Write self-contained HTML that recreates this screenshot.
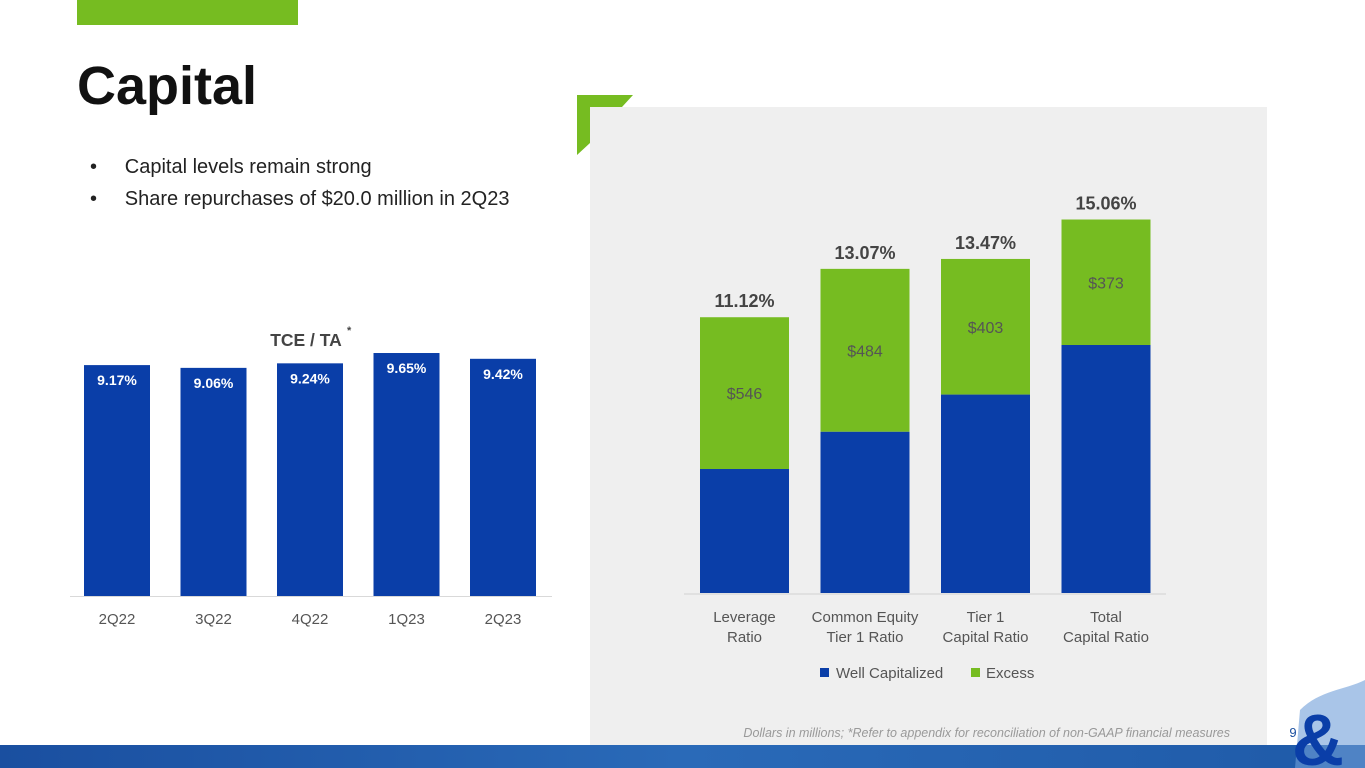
<!DOCTYPE html>
<html><head><meta charset="utf-8"><style>
body{margin:0;width:1365px;height:768px;position:relative;overflow:hidden;background:#fff;font-family:"Liberation Sans",sans-serif}
.abs{position:absolute}
</style></head><body>
<div class="abs" style="left:77px;top:0;width:221px;height:25px;background:#76bc21"></div>
<div class="abs" style="left:77px;top:55px;font-size:54px;font-weight:bold;color:#111">Capital</div>
<div class="abs" style="left:90px;top:151px;font-size:20px;color:#222;line-height:32px">
<div>•&nbsp;&nbsp;&nbsp;&nbsp;&nbsp;Capital levels remain strong</div>
<div>•&nbsp;&nbsp;&nbsp;&nbsp;&nbsp;Share repurchases of $20.0 million in 2Q23</div>
</div>
<svg class="abs" style="left:0;top:0" width="1365" height="768">
<defs><linearGradient id="bg" x1="0" x2="1"><stop offset="0" stop-color="#1a4fa0"/><stop offset="0.5" stop-color="#2a6ab8"/><stop offset="1" stop-color="#1f5aa8"/></linearGradient></defs>
<rect x="590" y="107" width="677" height="638" fill="#efefef"/>
<polygon points="577,95 633,95 622,107 590,107 590,143 577,155" fill="#76bc21"/>
<rect x="0" y="745" width="1365" height="23" fill="url(#bg)"/>
<path d="M1300,710 C1320,690 1345,690 1365,680 L1365,768 L1295,768 Z" fill="#6f9fd8" opacity="0.6"/>
<text x="1318" y="765" font-size="72" font-weight="bold" fill="#0a3ea8" text-anchor="middle">&amp;</text>
<text x="1230" y="737" font-size="12.5" font-style="italic" fill="#999" text-anchor="end">Dollars in millions; *Refer to appendix for reconciliation of non-GAAP financial measures</text>
<text x="1293" y="737" font-size="13" fill="#1a4fa0" text-anchor="middle">9</text>
<g id="left"></g><g id="right"></g>
</svg>
<script>
const ns="http://www.w3.org/2000/svg";
function mk(p,t,a,txt){const e=document.createElementNS(ns,t);for(const k in a)e.setAttribute(k,a[k]);if(txt!=null)e.textContent=txt;p.appendChild(e);return e;}
// left chart data
const tceCats=["2Q22","3Q22","4Q22","1Q23","2Q23"];
const tceVals=[9.17,9.06,9.24,9.65,9.42];
// right chart data
const ratioCats=[["Leverage","Ratio"],["Common Equity","Tier 1 Ratio"],["Tier 1","Capital Ratio"],["Total","Capital Ratio"]];
const wellCap=[5.0,6.5,8.0,10.0];
const totals=[11.12,13.07,13.47,15.06];
const excessLabels=["$546","$484","$403","$373"];

const L=document.getElementById('left');
const lBase=596,lScale=25.18,lX0=84,lStep=96.5,lW=66;
const ly=v=>lBase-v*lScale;
mk(L,'line',{x1:70,x2:552,y1:596.5,y2:596.5,stroke:'#d9d9d9',});
mk(L,'text',{x:306,y:346,'font-size':17.5,'font-weight':'bold',fill:'#444','text-anchor':'middle',},'TCE / TA');
mk(L,'text',{x:347,y:334,'font-size':11,'font-weight':'bold',fill:'#444',},'*');
tceVals.forEach((v,i)=>{const x=lX0+i*lStep;
 const r=mk(L,'rect',{x:x,y:ly(v),width:lW,height:v*lScale,fill:'#0a3ea8'});
 
 
 const vl=mk(L,'text',{x:x+lW/2,y:ly(v)+20,'font-size':14,'font-weight':'bold',fill:'#fff','text-anchor':'middle'},v.toFixed(2)+'%');
 
 
 const cl=mk(L,'text',{x:x+lW/2,y:624,'font-size':15,fill:'#555','text-anchor':'middle'},tceCats[i]);
 
 
});

const R=document.getElementById('right');
const rBase=593,rScale=24.8,rX0=700,rStep=120.5,rW=89;
const ry=v=>rBase-v*rScale;
mk(R,'line',{x1:684,x2:1166,y1:594,y2:594,stroke:'#d0d0d0',});
totals.forEach((tot,i)=>{const x=rX0+i*rStep,w=wellCap[i];
 const g=mk(R,'rect',{x:x,y:ry(tot),width:rW,height:(tot-w)*rScale,fill:'#76bc21'});
 
 
 const b=mk(R,'rect',{x:x,y:ry(w),width:rW,height:w*rScale,fill:'#0a3ea8'});
 
 
 const el=mk(R,'text',{x:x+rW/2,y:(ry(tot)+ry(w))/2+6,'font-size':16,fill:'#555','text-anchor':'middle'},excessLabels[i]);
 
 
 const tl=mk(R,'text',{x:x+rW/2,y:ry(tot)-10,'font-size':18,'font-weight':'bold',fill:'#444','text-anchor':'middle'},tot.toFixed(2)+'%');
 
 
 ratioCats[i].forEach((s,j)=>{const c=mk(R,'text',{x:x+rW/2,y:622+j*20,'font-size':15,fill:'#555','text-anchor':'middle'},s);
  
  });
});
mk(R,'rect',{x:820,y:668,width:9,height:9,fill:'#0a3ea8',});
mk(R,'text',{x:836,y:678,'font-size':15,fill:'#555',},'Well Capitalized');
mk(R,'rect',{x:971,y:668,width:9,height:9,fill:'#76bc21',});
mk(R,'text',{x:986,y:678,'font-size':15,fill:'#555',},'Excess');
</script>
</body></html>
